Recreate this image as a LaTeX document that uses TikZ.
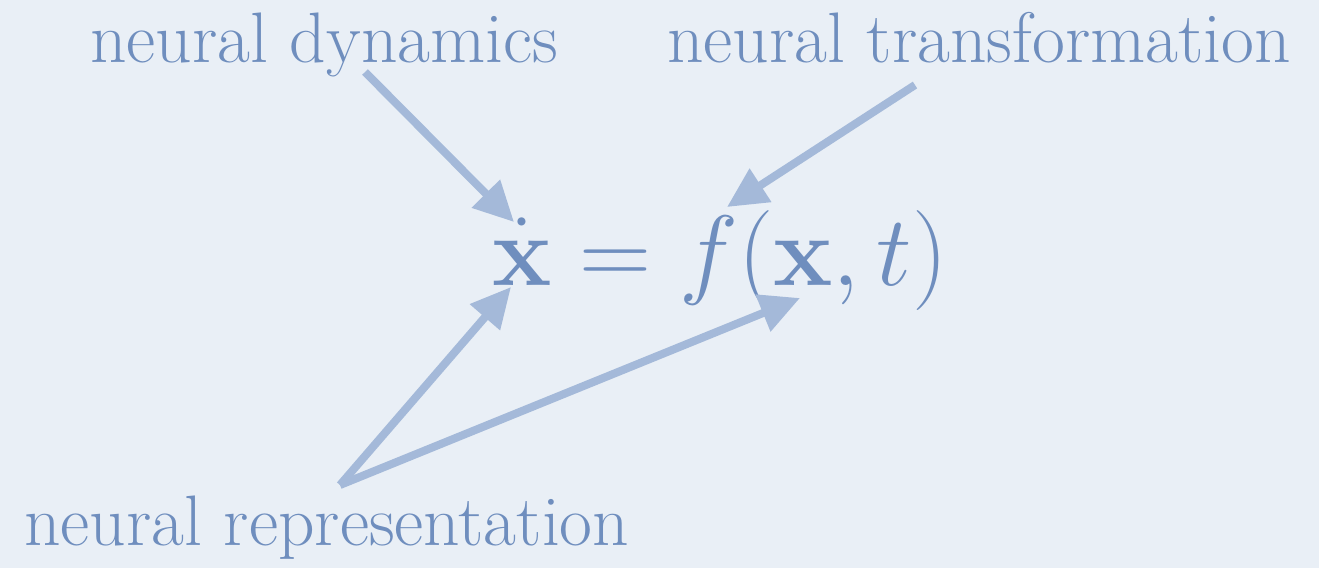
\RequirePackage{fix-cm}
\documentclass[tikz,border=0pt]{standalone}
\usepackage{tikz}
\usepackage{xcolor}
\usetikzlibrary{arrows.meta, positioning}
\definecolor{paper}{RGB}{233,239,246}
\definecolor{inkblue}{RGB}{111,142,190}
\definecolor{arrowblue}{RGB}{164,185,217}

\begin{document}
\begin{tikzpicture}[x=1pt, y=-1pt,
    label/.style={anchor=base west, inner sep=0pt, text=inkblue, font=\fontsize{71.5}{86}\selectfont},
    pointer/.style={-{Triangle[length=40pt, width=38pt]}, line width=8pt, draw=arrowblue}]
            \fill[paper] (0,0) rectangle (1319,568);
            \useasboundingbox (0,0) rectangle (1319,568);

            % labels
            \node[label] (dyn) at (90,62) {neural dynamics};
            \node[label] (trans) at (667,62) {neural transformation};
            \node[label] (rep) at (24,545) {neural representation};
            \node[anchor=base west, inner sep=0pt, text=inkblue, font=\fontsize{100}{120}\selectfont] (eq) at (492,285) {$\dot{\mathbf{x}} = f(\mathbf{x},t)$};

            % arrow ends
            \coordinate (dynfoot) at (365,72);
            \coordinate (transfoot) at (915,85);
            \coordinate (repfoot) at (340,485);
            \coordinate (xdot) at (514,222);
            \coordinate (ffun) at (727,207);
            \coordinate (xbot) at (511,287);
            \coordinate (xarg) at (800,298);

            \draw[pointer] (dynfoot) -- (xdot);
            \draw[pointer] (transfoot) -- (ffun);
            \draw[pointer] (repfoot) -- (xbot);
            \draw[pointer] (repfoot) -- (xarg);
        \end{tikzpicture}
\end{document}
